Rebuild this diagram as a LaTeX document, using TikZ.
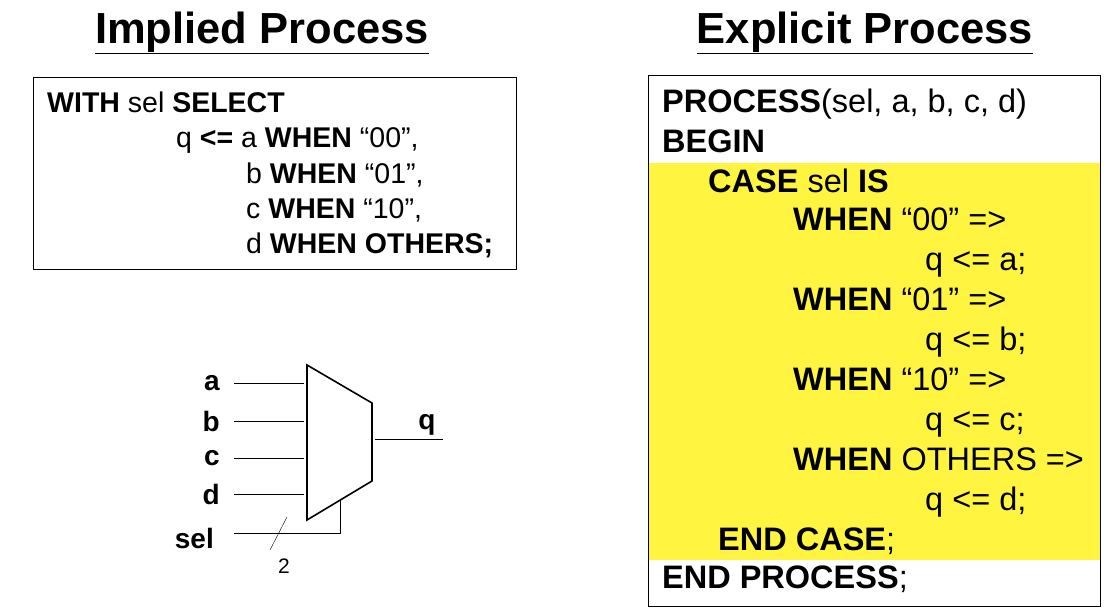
\documentclass[tikz,border=0pt]{standalone}
\usepackage{fontspec}
\setmainfont{Liberation Sans}
\begin{document}
\begin{tikzpicture}[x=1pt,y=-1pt,
 L/.style={anchor=base west,inner sep=0pt,font=\fontsize{28.5}{28}\selectfont},
 R/.style={anchor=base west,inner sep=0pt,font=\fontsize{32.5}{32}\selectfont},
 T/.style={inner sep=0pt,font=\fontsize{43.5}{43}\selectfont\bfseries},
 S/.style={inner sep=0pt,font=\fontsize{28}{28}\selectfont\bfseries},
 w/.style={line width=1pt}]
\useasboundingbox (0,0) rectangle (1110,611);
\node[T] (t1) at (262,33) {\underline{Implied Process}};
\node[T] (t2) at (865,33) {\underline{Explicit Process}};
% left box
\draw[w] (33,77) rectangle (516,269);
\node[L] (l1) at (47,112) {\textbf{WITH} sel \textbf{SELECT}};
\node[L] (l2) at (176,147) {q \textbf{<=} a \textbf{WHEN} “00”,};
\node[L] (l3) at (246,183) {b \textbf{WHEN} “01”,};
\node[L] (l4) at (246,218) {c \textbf{WHEN} “10”,};
\node[L] (l5) at (246,253) {d \textbf{WHEN OTHERS;}};
% right box
\fill[yellow!75!white] (648,163) rectangle (1100,560);
\draw[w] (648,75) rectangle (1100,606);
\node[R] (r1) at (662,112) {\textbf{PROCESS}(sel, a, b, c, d)};
\node[R] (r2) at (662,152) {\textbf{BEGIN}};
\node[R] (r3) at (708,192) {\textbf{CASE} sel \textbf{IS}};
\node[R] (r4) at (793,230) {\textbf{WHEN} “00” =>};
\node[R] (r5) at (925,270) {q <= a;};
\node[R] (r6) at (793,310) {\textbf{WHEN} “01” =>};
\node[R] (r7) at (925,350) {q <= b;};
\node[R] (r8) at (793,390) {\textbf{WHEN} “10” =>};
\node[R] (r9) at (925,430) {q <= c;};
\node[R] (r10) at (793,470) {\textbf{WHEN} OTHERS =>};
\node[R] (r11) at (925,510) {q <= d;};
\node[R] (r12) at (718,550) {\textbf{END CASE};};
\node[R] (r13) at (662,588) {\textbf{END PROCESS};};
% mux
\draw[line width=1.6pt] (307,365) -- (372,403) -- (372,481) -- (307,520) -- cycle;
\coordinate (mux) at (340,500);
\foreach \n/\y in {a/383,b/421,c/458,d/494}{
  \node[S,anchor=east] (\n) at (220,\y) {\n};
  \coordinate (\n s) at (234,\y);
  \coordinate (\n e) at (304,\y);
  \draw (\n s) -- (\n e);
}
\node[S,anchor=east] (sel) at (214,538) {sel};
\coordinate (sels) at (234,533);
\coordinate (selc) at (340,533);
\draw (sels) -- (selc) -- (mux);
\draw (270,550) -- (287,517);
\node[inner sep=0pt,font=\fontsize{21}{21}\selectfont] (two) at (284,566) {2};
\node[S] (q) at (427,425) {q};
\coordinate (qs) at (375,439);
\coordinate (qo) at (443,439);
\draw (qs) -- (qo);
\end{tikzpicture}
\end{document}
